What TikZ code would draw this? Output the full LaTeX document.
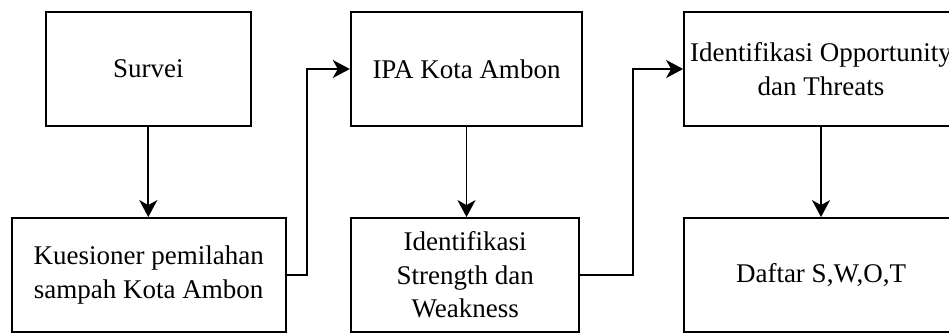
\documentclass[tikz,border=0pt]{standalone}
\usepackage{fontspec}
\setmainfont{Liberation Serif}
\usetikzlibrary{arrows.meta}
\tikzset{
  boxnode/.style={draw=black, line width=1.8pt, rectangle, inner sep=0pt, align=center,
    font=\fontsize{27}{33.5}\selectfont, minimum height=114pt},
  conn/.style={line width=1.8pt, -{Stealth[length=17pt,width=18pt,inset=5pt]}},
}
\begin{document}
\begin{tikzpicture}[x=1pt,y=-1pt]
\useasboundingbox (0,0) rectangle (949,334);
\clip (0,0) rectangle (949,334);
\node[boxnode, minimum width=205pt] (b1) at (148.3,69) {Survei};
\node[boxnode, minimum width=274pt] (b2) at (148.7,275) {Kuesioner pemilahan\\sampah Kota Ambon};
\node[boxnode, minimum width=231.6pt] (b3) at (466.5,69) {IPA Kota Ambon};
\node[boxnode, minimum width=228.3pt] (b4) at (465.2,275) {Identifikasi\\Strength dan\\Weakness};
\node[boxnode, minimum width=274pt] (b5) at (821,69) {Identifikasi Opportunity\\dan Threats};
\node[boxnode, minimum width=274pt] (b6) at (821,275) {Daftar S,W,O,T};
\draw[conn] (b1.south) -- (b1.south |- b2.north);
\draw[conn] (b3.south) -- (b3.south |- b4.north);
\draw[conn] (b5.south) -- (b5.south |- b6.north);
\draw[conn] (b2.east) -- ++(20.5,0) |- (b3.west);
\draw[conn] (b4.east) -- ++(53,0) |- (b5.west);
\end{tikzpicture}
\end{document}
